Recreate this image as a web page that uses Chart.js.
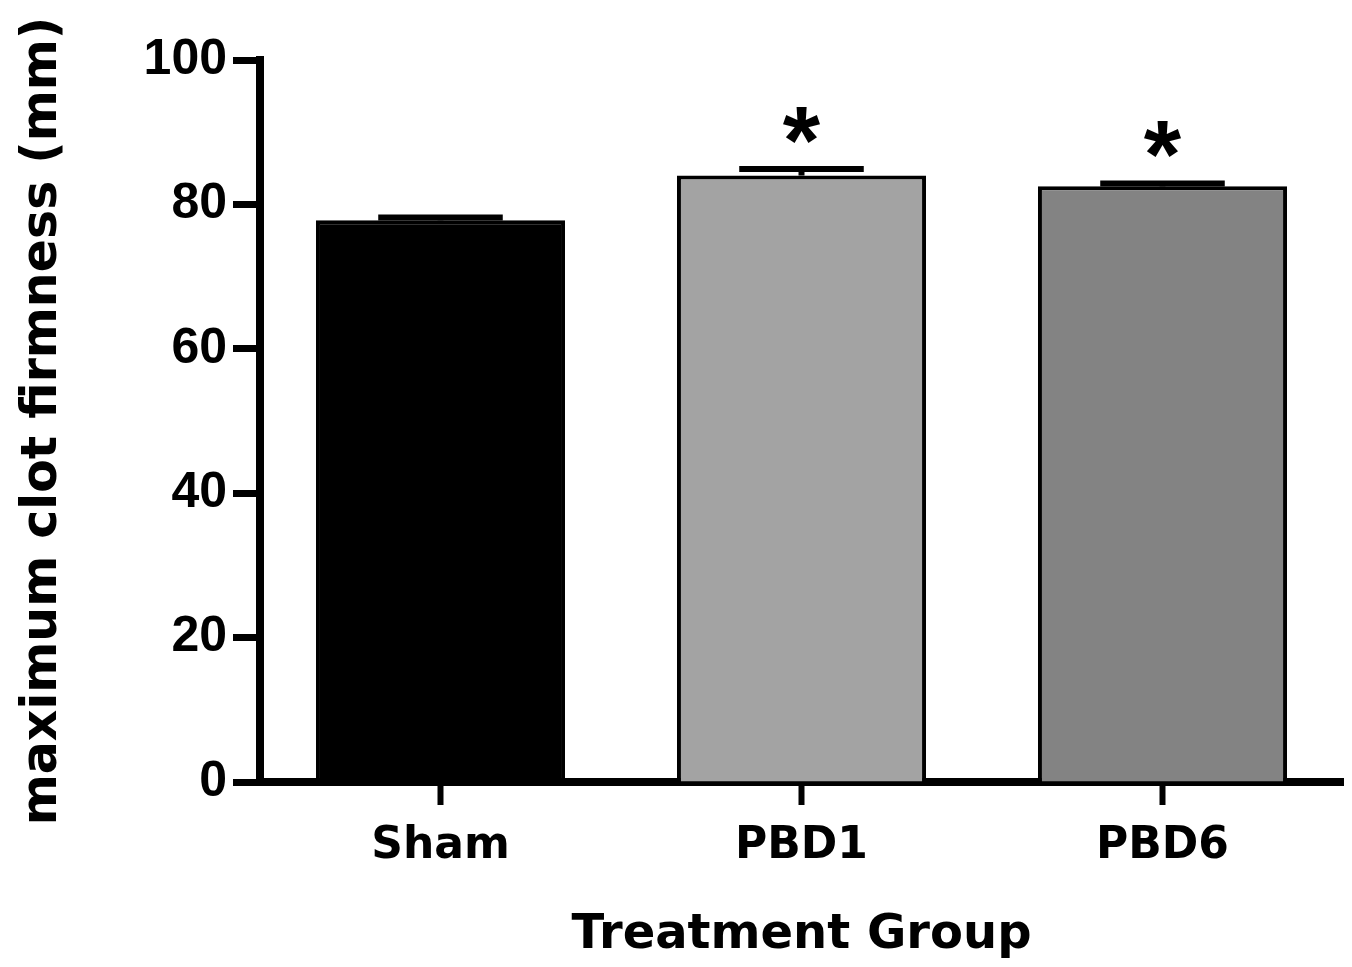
<!DOCTYPE html>
<html>
<head>
<meta charset="utf-8">
<script src="https://cdn.jsdelivr.net/npm/chart.js@4.4.1/dist/chart.umd.min.js"></script>
<style>
  html, body { margin: 0; padding: 0; background: #ffffff; }
  #wrap { width: 1352px; height: 967px; }
</style>
</head>
<body>
<div id="wrap"><canvas id="c" width="1352" height="967"></canvas></div>
<script>
const categories = ["Sham", "PBD1", "PBD6"];
const meanValues = [77.8, 84.0, 82.5];
const errorValues = [0.4, 0.9, 0.4];
const significance = ["", "*", "*"];
const barColors = ["#000000", "#a3a3a3", "#838383"];
const yTicks = [0, 20, 40, 60, 80, 100];

const errorBarPlugin = {
  id: 'errorBars',
  afterDatasetsDraw(chart) {
    const ctx = chart.ctx;
    const meta = chart.getDatasetMeta(0);
    const yScale = chart.scales.y;
    ctx.save();
    meta.data.forEach((bar, i) => {
      const x = bar.x;
      const yMean = yScale.getPixelForValue(meanValues[i]);
      const yTop = yScale.getPixelForValue(meanValues[i] + errorValues[i]);
      const capHalf = bar.width * 0.25;
      ctx.strokeStyle = '#000000';
      ctx.lineWidth = 6;
      ctx.beginPath();
      ctx.moveTo(x, yMean);
      ctx.lineTo(x, yTop);
      ctx.stroke();
      ctx.beginPath();
      ctx.moveTo(x - capHalf, yTop);
      ctx.lineTo(x + capHalf, yTop);
      ctx.stroke();
      if (significance[i]) {
        ctx.fillStyle = '#000000';
        ctx.font = 'bold 96px "Liberation Sans", Arial, sans-serif';
        ctx.textAlign = 'center';
        ctx.textBaseline = 'alphabetic';
        ctx.fillText(significance[i], x, yTop + 4);
      }
    });
    ctx.restore();
  }
};

new Chart(document.getElementById('c'), {
  type: 'bar',
  data: {
    labels: categories,
    datasets: [{
      data: meanValues,
      backgroundColor: barColors,
      borderColor: '#000000',
      borderWidth: 4,
      borderSkipped: 'bottom',
      barPercentage: 0.69,
      categoryPercentage: 1.0
    }]
  },
  options: {
    responsive: false,
    animation: false,
    devicePixelRatio: 1,
    layout: { padding: { left: 12, right: 9, top: 60, bottom: 0 } },
    plugins: { legend: { display: false }, tooltip: { enabled: false } },
    scales: {
      x: {
        type: 'category',
        offset: true,
        afterFit(scale) { scale.height = 967 - 782; },
        border: { display: true, color: '#000000', width: 8 },
        grid: { display: true, drawOnChartArea: false, drawTicks: true, offset: false, tickLength: 23, tickWidth: 6, tickColor: '#000000' },
        ticks: { color: '#000000', padding: 15, font: { family: '"DejaVu Sans", Verdana, sans-serif', weight: 'bold', size: 44 } },
        title: { display: true, text: 'Treatment Group', color: '#000000', padding: { top: 0, bottom: 3 }, font: { family: '"DejaVu Sans", Verdana, sans-serif', weight: 'bold', size: 48 } }
      },
      y: {
        min: 0,
        max: 100,
        afterBuildTicks(scale) { scale.ticks = yTicks.map(v => ({ value: v })); },
        afterFit(scale) { scale.width = 260 - 12; },
        border: { display: true, color: '#000000', width: 8 },
        grid: { display: true, drawOnChartArea: false, drawTicks: true, tickLength: 27, tickWidth: 7, tickColor: '#000000' },
        ticks: { color: '#000000', padding: 6, font: { family: '"Liberation Sans", Arial, sans-serif', weight: 'bold', size: 50 } },
        title: { display: true, text: 'maximum clot firmness (mm)', color: '#000000', padding: { top: 2, bottom: 0 }, font: { family: '"DejaVu Sans", Verdana, sans-serif', weight: 'bold', size: 49 } }
      }
    }
  },
  plugins: [errorBarPlugin]
});
</script>
</body>
</html>
